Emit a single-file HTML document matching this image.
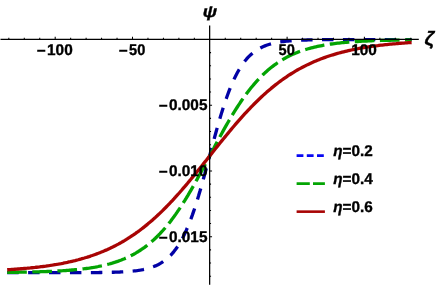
<!DOCTYPE html>
<html><head><meta charset="utf-8"><title>plot</title>
<style>
html,body{margin:0;padding:0;background:#fff;}
svg{display:block;will-change:transform;opacity:0.999}
text{text-rendering:geometricPrecision;font-family:"Liberation Sans",sans-serif;font-weight:bold;fill:#000;stroke:#000;stroke-width:0.35px}
</style></head><body>
<svg width="436" height="286" viewBox="0 0 436 286">
<rect width="436" height="286" fill="#fff"/>
<g fill="none" stroke-width="3.3" stroke-linecap="butt" stroke-linejoin="bevel">
<path d="M7.18,272.70 L8.72,272.70 L10.27,272.70 L11.81,272.70 L13.35,272.70 L14.90,272.70 L16.44,272.70 L17.98,272.70 L19.53,272.70 L21.07,272.70 L22.61,272.70 L24.16,272.70 L25.70,272.70 L27.25,272.70 L28.79,272.70 L30.33,272.70 L31.88,272.70 L33.42,272.70 L34.96,272.70 L36.51,272.70 L38.05,272.70 L39.60,272.70 L41.14,272.70 L42.68,272.69 L44.23,272.69 L45.77,272.69 L47.31,272.69 L48.86,272.69 L50.40,272.69 L51.94,272.69 L53.49,272.69 L55.03,272.69 L56.58,272.69 L58.12,272.69 L59.66,272.69 L61.21,272.68 L62.75,272.68 L64.29,272.68 L65.84,272.68 L67.38,272.68 L68.92,272.67 L70.47,272.67 L72.01,272.67 L73.56,272.66 L75.10,272.66 L76.64,272.66 L78.19,272.65 L79.73,272.65 L81.27,272.64 L82.82,272.64 L84.36,272.63 L85.90,272.62 L87.45,272.61 L88.99,272.60 L90.54,272.59 L92.08,272.58 L93.62,272.57 L95.17,272.56 L96.71,272.54 L98.25,272.53 L99.80,272.51 L101.34,272.49 L102.88,272.46 L104.43,272.44 L105.97,272.41 L107.52,272.38 L109.06,272.35 L110.60,272.31 L112.15,272.27 L113.69,272.23 L115.23,272.18 L116.78,272.12 L118.32,272.06 L119.86,272.00 L121.41,271.92 L122.95,271.84 L124.50,271.75 L126.04,271.65 L127.58,271.54 L129.13,271.42 L130.67,271.29 L132.21,271.14 L133.76,270.98 L135.30,270.80 L136.84,270.60 L138.39,270.39 L139.93,270.15 L141.48,269.88 L143.02,269.59 L144.56,269.27 L146.11,268.91 L147.65,268.52 L149.19,268.09 L150.74,267.62 L152.28,267.10 L153.82,266.53 L155.37,265.90 L156.91,265.20 L158.46,264.45 L160.00,263.61 L161.54,262.70 L163.09,261.70 L164.63,260.60 L166.17,259.41 L167.72,258.10 L169.26,256.67 L170.80,255.11 L172.35,253.42 L173.89,251.58 L175.44,249.58 L176.98,247.42 L178.52,245.08 L180.07,242.55 L181.61,239.83 L183.15,236.91 L184.70,233.78 L186.24,230.43 L187.78,226.87 L189.33,223.08 L190.87,219.07 L192.42,214.84 L193.96,210.38 L195.50,205.72 L197.05,200.85 L198.59,195.80 L200.13,190.57 L201.68,185.18 L203.22,179.66 L204.76,174.02 L206.31,168.30 L207.85,162.52 L209.40,156.71 L210.94,150.89 L212.48,145.10 L214.03,139.37 L215.57,133.71 L217.11,128.16 L218.66,122.75 L220.20,117.49 L221.74,112.39 L223.29,107.49 L224.83,102.78 L226.38,98.29 L227.92,94.01 L229.46,89.95 L231.01,86.12 L232.55,82.51 L234.09,79.12 L235.64,75.95 L237.18,72.99 L238.72,70.23 L240.27,67.66 L241.81,65.29 L243.36,63.09 L244.90,61.06 L246.44,59.19 L247.99,57.46 L249.53,55.88 L251.07,54.43 L252.62,53.10 L254.16,51.88 L255.70,50.76 L257.25,49.74 L258.79,48.81 L260.34,47.96 L261.88,47.19 L263.42,46.49 L264.97,45.85 L266.51,45.26 L268.05,44.73 L269.60,44.25 L271.14,43.81 L272.68,43.41 L274.23,43.05 L275.77,42.72 L277.32,42.42 L278.86,42.15 L280.40,41.91 L281.95,41.69 L283.49,41.49 L285.03,41.30 L286.58,41.14 L288.12,40.99 L289.66,40.85 L291.21,40.73 L292.75,40.62 L294.30,40.52 L295.84,40.43 L297.38,40.34 L298.93,40.27 L300.47,40.20 L302.01,40.14 L303.56,40.08 L305.10,40.03 L306.64,39.99 L308.19,39.94 L309.73,39.91 L311.28,39.87 L312.82,39.84 L314.36,39.81 L315.91,39.79 L317.45,39.77 L318.99,39.75 L320.54,39.73 L322.08,39.71 L323.62,39.70 L325.17,39.68 L326.71,39.67 L328.26,39.66 L329.80,39.65 L331.34,39.64 L332.89,39.63 L334.43,39.62 L335.97,39.62 L337.52,39.61 L339.06,39.60 L340.60,39.60 L342.15,39.59 L343.69,39.59 L345.24,39.59 L346.78,39.58 L348.32,39.58 L349.87,39.58 L351.41,39.57 L352.95,39.57 L354.50,39.57 L356.04,39.57 L357.58,39.57 L359.13,39.56 L360.67,39.56 L362.22,39.56 L363.76,39.56 L365.30,39.56 L366.85,39.56 L368.39,39.56 L369.93,39.56 L371.48,39.56 L373.02,39.56 L374.56,39.56 L376.11,39.55 L377.65,39.55 L379.20,39.55 L380.74,39.55 L382.28,39.55 L383.83,39.55 L385.37,39.55 L386.91,39.55 L388.46,39.55 L390.00,39.55 L391.54,39.55 L393.09,39.55 L394.63,39.55 L396.18,39.55 L397.72,39.55 L399.26,39.55 L400.81,39.55 L402.35,39.55 L403.89,39.55 L405.44,39.55 L406.98,39.55 L408.52,39.55 L410.07,39.55 L411.61,39.55" stroke="#0202a6" stroke-dasharray="11.47 9.45"/>
<path d="M7.18,272.36 L8.72,272.35 L10.27,272.33 L11.81,272.31 L13.35,272.29 L14.90,272.27 L16.44,272.25 L17.98,272.23 L19.53,272.20 L21.07,272.18 L22.61,272.15 L24.16,272.12 L25.70,272.09 L27.25,272.06 L28.79,272.03 L30.33,271.99 L31.88,271.96 L33.42,271.92 L34.96,271.88 L36.51,271.84 L38.05,271.79 L39.60,271.75 L41.14,271.70 L42.68,271.65 L44.23,271.59 L45.77,271.54 L47.31,271.48 L48.86,271.42 L50.40,271.35 L51.94,271.28 L53.49,271.21 L55.03,271.13 L56.58,271.06 L58.12,270.97 L59.66,270.88 L61.21,270.79 L62.75,270.70 L64.29,270.59 L65.84,270.49 L67.38,270.37 L68.92,270.26 L70.47,270.13 L72.01,270.00 L73.56,269.87 L75.10,269.72 L76.64,269.57 L78.19,269.42 L79.73,269.25 L81.27,269.08 L82.82,268.89 L84.36,268.70 L85.90,268.50 L87.45,268.29 L88.99,268.07 L90.54,267.84 L92.08,267.59 L93.62,267.34 L95.17,267.07 L96.71,266.79 L98.25,266.50 L99.80,266.19 L101.34,265.86 L102.88,265.52 L104.43,265.17 L105.97,264.80 L107.52,264.41 L109.06,264.00 L110.60,263.57 L112.15,263.12 L113.69,262.65 L115.23,262.16 L116.78,261.65 L118.32,261.11 L119.86,260.55 L121.41,259.96 L122.95,259.34 L124.50,258.70 L126.04,258.03 L127.58,257.33 L129.13,256.60 L130.67,255.83 L132.21,255.03 L133.76,254.20 L135.30,253.33 L136.84,252.43 L138.39,251.48 L139.93,250.50 L141.48,249.48 L143.02,248.41 L144.56,247.30 L146.11,246.15 L147.65,244.96 L149.19,243.71 L150.74,242.42 L152.28,241.08 L153.82,239.69 L155.37,238.25 L156.91,236.76 L158.46,235.22 L160.00,233.62 L161.54,231.97 L163.09,230.26 L164.63,228.50 L166.17,226.68 L167.72,224.81 L169.26,222.89 L170.80,220.90 L172.35,218.86 L173.89,216.77 L175.44,214.62 L176.98,212.41 L178.52,210.16 L180.07,207.84 L181.61,205.48 L183.15,203.07 L184.70,200.61 L186.24,198.10 L187.78,195.54 L189.33,192.94 L190.87,190.30 L192.42,187.62 L193.96,184.91 L195.50,182.16 L197.05,179.38 L198.59,176.57 L200.13,173.74 L201.68,170.89 L203.22,168.01 L204.76,165.13 L206.31,162.23 L207.85,159.33 L209.40,156.42 L210.94,153.51 L212.48,150.60 L214.03,147.70 L215.57,144.81 L217.11,141.94 L218.66,139.08 L220.20,136.24 L221.74,133.43 L223.29,130.64 L224.83,127.89 L226.38,125.17 L227.92,122.48 L229.46,119.83 L231.01,117.23 L232.55,114.66 L234.09,112.14 L235.64,109.67 L237.18,107.25 L238.72,104.87 L240.27,102.55 L241.81,100.28 L243.36,98.07 L244.90,95.91 L246.44,93.80 L247.99,91.75 L249.53,89.76 L251.07,87.82 L252.62,85.94 L254.16,84.11 L255.70,82.34 L257.25,80.62 L258.79,78.96 L260.34,77.35 L261.88,75.80 L263.42,74.29 L264.97,72.84 L266.51,71.44 L268.05,70.09 L269.60,68.79 L271.14,67.54 L272.68,66.33 L274.23,65.17 L275.77,64.06 L277.32,62.98 L278.86,61.95 L280.40,60.96 L281.95,60.01 L283.49,59.10 L285.03,58.22 L286.58,57.38 L288.12,56.58 L289.66,55.80 L291.21,55.07 L292.75,54.36 L294.30,53.68 L295.84,53.03 L297.38,52.41 L298.93,51.82 L300.47,51.25 L302.01,50.71 L303.56,50.19 L305.10,49.69 L306.64,49.22 L308.19,48.77 L309.73,48.34 L311.28,47.92 L312.82,47.53 L314.36,47.15 L315.91,46.80 L317.45,46.45 L318.99,46.13 L320.54,45.81 L322.08,45.52 L323.62,45.23 L325.17,44.96 L326.71,44.71 L328.26,44.46 L329.80,44.23 L331.34,44.00 L332.89,43.79 L334.43,43.59 L335.97,43.39 L337.52,43.21 L339.06,43.03 L340.60,42.87 L342.15,42.71 L343.69,42.56 L345.24,42.41 L346.78,42.27 L348.32,42.14 L349.87,42.02 L351.41,41.90 L352.95,41.78 L354.50,41.68 L356.04,41.57 L357.58,41.48 L359.13,41.38 L360.67,41.29 L362.22,41.21 L363.76,41.13 L365.30,41.05 L366.85,40.98 L368.39,40.91 L369.93,40.85 L371.48,40.78 L373.02,40.72 L374.56,40.67 L376.11,40.61 L377.65,40.56 L379.20,40.51 L380.74,40.47 L382.28,40.42 L383.83,40.38 L385.37,40.34 L386.91,40.30 L388.46,40.26 L390.00,40.23 L391.54,40.20 L393.09,40.16 L394.63,40.13 L396.18,40.11 L397.72,40.08 L399.26,40.05 L400.81,40.03 L402.35,40.01 L403.89,39.98 L405.44,39.96 L406.98,39.94 L408.52,39.92 L410.07,39.91 L411.61,39.89" stroke="#03a403" stroke-dasharray="19.67 5.47"/>
<path d="M7.18,269.77 L8.72,269.67 L10.27,269.57 L11.81,269.46 L13.35,269.36 L14.90,269.24 L16.44,269.13 L17.98,269.01 L19.53,268.89 L21.07,268.76 L22.61,268.63 L24.16,268.49 L25.70,268.35 L27.25,268.21 L28.79,268.06 L30.33,267.91 L31.88,267.75 L33.42,267.59 L34.96,267.42 L36.51,267.24 L38.05,267.06 L39.60,266.88 L41.14,266.68 L42.68,266.49 L44.23,266.28 L45.77,266.07 L47.31,265.85 L48.86,265.63 L50.40,265.40 L51.94,265.16 L53.49,264.91 L55.03,264.65 L56.58,264.39 L58.12,264.12 L59.66,263.84 L61.21,263.55 L62.75,263.26 L64.29,262.95 L65.84,262.64 L67.38,262.31 L68.92,261.97 L70.47,261.63 L72.01,261.27 L73.56,260.91 L75.10,260.53 L76.64,260.14 L78.19,259.74 L79.73,259.32 L81.27,258.90 L82.82,258.46 L84.36,258.01 L85.90,257.54 L87.45,257.06 L88.99,256.57 L90.54,256.06 L92.08,255.54 L93.62,255.01 L95.17,254.45 L96.71,253.89 L98.25,253.30 L99.80,252.70 L101.34,252.08 L102.88,251.45 L104.43,250.80 L105.97,250.13 L107.52,249.44 L109.06,248.74 L110.60,248.01 L112.15,247.27 L113.69,246.50 L115.23,245.72 L116.78,244.91 L118.32,244.09 L119.86,243.24 L121.41,242.38 L122.95,241.49 L124.50,240.58 L126.04,239.64 L127.58,238.69 L129.13,237.71 L130.67,236.71 L132.21,235.68 L133.76,234.64 L135.30,233.56 L136.84,232.47 L138.39,231.35 L139.93,230.20 L141.48,229.03 L143.02,227.84 L144.56,226.62 L146.11,225.38 L147.65,224.11 L149.19,222.82 L150.74,221.50 L152.28,220.16 L153.82,218.79 L155.37,217.40 L156.91,215.99 L158.46,214.54 L160.00,213.08 L161.54,211.59 L163.09,210.08 L164.63,208.54 L166.17,206.98 L167.72,205.40 L169.26,203.80 L170.80,202.17 L172.35,200.52 L173.89,198.85 L175.44,197.16 L176.98,195.45 L178.52,193.73 L180.07,191.98 L181.61,190.21 L183.15,188.43 L184.70,186.63 L186.24,184.82 L187.78,182.99 L189.33,181.14 L190.87,179.29 L192.42,177.42 L193.96,175.54 L195.50,173.64 L197.05,171.74 L198.59,169.83 L200.13,167.92 L201.68,166.00 L203.22,164.07 L204.76,162.13 L206.31,160.20 L207.85,158.26 L209.40,156.32 L210.94,154.38 L212.48,152.44 L214.03,150.50 L215.57,148.57 L217.11,146.64 L218.66,144.72 L220.20,142.80 L221.74,140.89 L223.29,138.98 L224.83,137.09 L226.38,135.21 L227.92,133.34 L229.46,131.48 L231.01,129.63 L232.55,127.80 L234.09,125.98 L235.64,124.18 L237.18,122.39 L238.72,120.62 L240.27,118.87 L241.81,117.14 L243.36,115.43 L244.90,113.73 L246.44,112.06 L247.99,110.41 L249.53,108.78 L251.07,107.17 L252.62,105.58 L254.16,104.02 L255.70,102.48 L257.25,100.96 L258.79,99.47 L260.34,98.00 L261.88,96.55 L263.42,95.13 L264.97,93.73 L266.51,92.36 L268.05,91.01 L269.60,89.69 L271.14,88.39 L272.68,87.12 L274.23,85.87 L275.77,84.65 L277.32,83.45 L278.86,82.28 L280.40,81.13 L281.95,80.00 L283.49,78.90 L285.03,77.83 L286.58,76.77 L288.12,75.74 L289.66,74.74 L291.21,73.76 L292.75,72.80 L294.30,71.86 L295.84,70.94 L297.38,70.05 L298.93,69.18 L300.47,68.33 L302.01,67.50 L303.56,66.69 L305.10,65.90 L306.64,65.13 L308.19,64.39 L309.73,63.66 L311.28,62.95 L312.82,62.26 L314.36,61.58 L315.91,60.93 L317.45,60.29 L318.99,59.67 L320.54,59.07 L322.08,58.48 L323.62,57.91 L325.17,57.35 L326.71,56.81 L328.26,56.29 L329.80,55.78 L331.34,55.28 L332.89,54.80 L334.43,54.34 L335.97,53.88 L337.52,53.44 L339.06,53.01 L340.60,52.60 L342.15,52.19 L343.69,51.80 L345.24,51.42 L346.78,51.05 L348.32,50.69 L349.87,50.34 L351.41,50.01 L352.95,49.68 L354.50,49.36 L356.04,49.05 L357.58,48.75 L359.13,48.46 L360.67,48.18 L362.22,47.91 L363.76,47.65 L365.30,47.39 L366.85,47.14 L368.39,46.90 L369.93,46.67 L371.48,46.44 L373.02,46.22 L374.56,46.01 L376.11,45.80 L377.65,45.61 L379.20,45.41 L380.74,45.22 L382.28,45.04 L383.83,44.87 L385.37,44.70 L386.91,44.53 L388.46,44.37 L390.00,44.22 L391.54,44.07 L393.09,43.92 L394.63,43.78 L396.18,43.65 L397.72,43.51 L399.26,43.39 L400.81,43.26 L402.35,43.14 L403.89,43.03 L405.44,42.92 L406.98,42.81 L408.52,42.70 L410.07,42.60 L411.61,42.50" stroke="#a80404"/>
</g>
<g stroke="#000" stroke-width="1.25" fill="none">
<path d="M0.5,39.35 H418.8"/>
<path d="M209.65,25.6 V284.7"/>
<path d="M8.82,39.15 v-1.5 M24.28,39.15 v-1.5 M39.74,39.15 v-1.5 M55.20,39.15 v-2.5 M70.66,39.15 v-1.5 M86.12,39.15 v-1.5 M101.58,39.15 v-1.5 M117.04,39.15 v-1.5 M132.50,39.15 v-2.5 M147.96,39.15 v-1.5 M163.42,39.15 v-1.5 M178.88,39.15 v-1.5 M194.34,39.15 v-1.5 M225.26,39.15 v-1.5 M240.72,39.15 v-1.5 M256.18,39.15 v-1.5 M271.64,39.15 v-1.5 M287.10,39.15 v-2.5 M302.56,39.15 v-1.5 M318.02,39.15 v-1.5 M333.48,39.15 v-1.5 M348.94,39.15 v-1.5 M364.40,39.15 v-2.5 M379.86,39.15 v-1.5 M395.32,39.15 v-1.5 M410.78,39.15 v-1.5 " stroke-width="1.05"/>
<path d="M209.55,52.60 h1.5 M209.55,65.75 h1.5 M209.55,78.90 h1.5 M209.55,92.05 h1.5 M209.55,105.20 h2.5 M209.55,118.35 h1.5 M209.55,131.50 h1.5 M209.55,144.65 h1.5 M209.55,157.80 h1.5 M209.55,170.95 h2.5 M209.55,184.10 h1.5 M209.55,197.25 h1.5 M209.55,210.40 h1.5 M209.55,223.55 h1.5 M209.55,236.70 h2.5 M209.55,249.85 h1.5 M209.55,263.00 h1.5 M209.55,276.15 h1.5 " stroke-width="1.05"/>
</g>
<text transform="translate(54.75,55.45) scale(0.99,1)" text-anchor="middle" font-size="15.5" ><tspan dy="0.9">−</tspan><tspan dx="1.3" dy="-0.9">100</tspan></text>
<text transform="translate(132.05,55.45) scale(0.99,1)" text-anchor="middle" font-size="15.5" ><tspan dy="0.9">−</tspan><tspan dx="1.3" dy="-0.9" textLength="16.4" lengthAdjust="spacingAndGlyphs">50</tspan></text>
<text transform="translate(286.65,55.45) scale(0.99,1)" text-anchor="middle" font-size="15.5" ><tspan textLength="16.4" lengthAdjust="spacingAndGlyphs">50</tspan></text>
<text transform="translate(363.95,55.45) scale(0.99,1)" text-anchor="middle" font-size="15.5" >100</text>
<text transform="translate(207.45,110.3) scale(0.99,1)" text-anchor="end" font-size="15.5" ><tspan dy="0.9">−</tspan><tspan dx="1.3" dy="-0.9">0.005</tspan></text>
<text transform="translate(207.45,176.05) scale(0.99,1)" text-anchor="end" font-size="15.5" ><tspan dy="0.9">−</tspan><tspan dx="1.3" dy="-0.9">0.010</tspan></text>
<text transform="translate(207.45,241.8) scale(0.99,1)" text-anchor="end" font-size="15.5" ><tspan dy="0.9">−</tspan><tspan dx="1.3" dy="-0.9">0.015</tspan></text>

<text transform="translate(209.8,17.4) scale(1.15,1)" text-anchor="middle" font-size="16.1" font-style="italic">ψ</text>

<text transform="translate(429.3,45.3) scale(1.03,1)" text-anchor="middle" font-size="19.4" font-style="italic">ζ</text>

<g fill="none" stroke-width="2.6">
<path d="M296.6,155.65 H324.9" stroke="#0808f2" stroke-dasharray="6.8 3.4"/>
<path d="M296.6,183.65 H324.9" stroke="#04a504" stroke-dasharray="13.2 3.2"/>
<path d="M296.6,211.65 H324.9" stroke="#a80404"/>
</g>
<text transform="translate(333.2,156.3) scale(0.985,1)" text-anchor="start" font-size="15.5" ><tspan font-style="italic">η</tspan>=0.2</text>
<text transform="translate(333.2,184.3) scale(0.985,1)" text-anchor="start" font-size="15.5" ><tspan font-style="italic">η</tspan>=0.4</text>
<text transform="translate(333.2,212.3) scale(0.985,1)" text-anchor="start" font-size="15.5" ><tspan font-style="italic">η</tspan>=0.6</text>

</svg>
</body></html>
